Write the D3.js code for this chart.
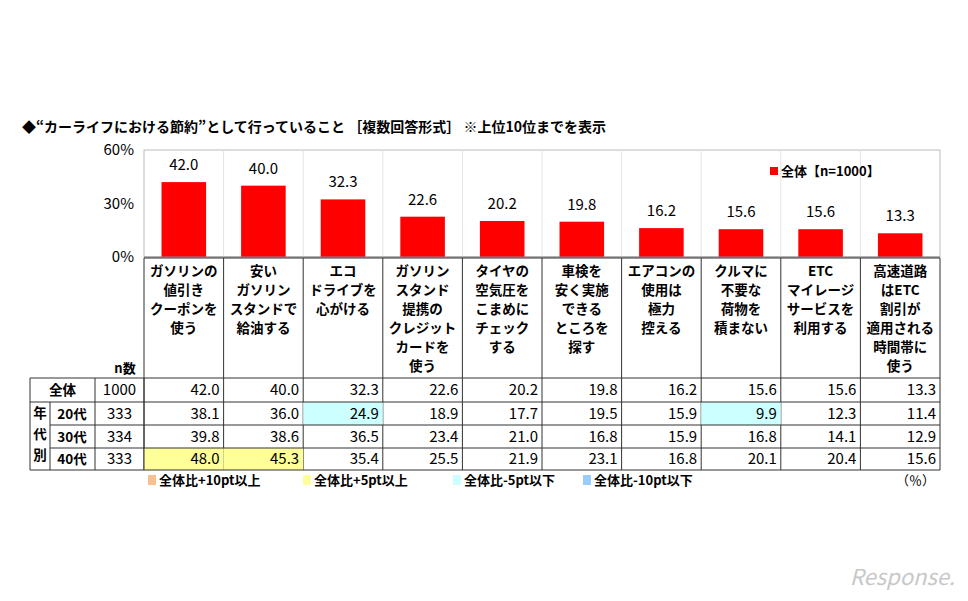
<!DOCTYPE html>
<html lang="ja">
<head>
<meta charset="UTF-8">
<script src="https://d3js.org/d3.v7.min.js"></script>
<style>
  body { margin: 0; background: #fff; }
  svg text { font-family: "Noto Sans CJK JP", "Liberation Sans", sans-serif; }
</style>
</head>
<body>
<svg id="chart" width="968" height="601"></svg>
<script>
// data
const categories = [
  ["ガソリンの", "値引き", "クーポンを", "使う"],
  ["安い", "ガソリン", "スタンドで", "給油する"],
  ["エコ", "ドライブを", "心がける"],
  ["ガソリン", "スタンド", "提携の", "クレジット", "カードを", "使う"],
  ["タイヤの", "空気圧を", "こまめに", "チェック", "する"],
  ["車検を", "安く実施", "できる", "ところを", "探す"],
  ["エアコンの", "使用は", "極力", "控える"],
  ["クルマに", "不要な", "荷物を", "積まない"],
  ["ETC", "マイレージ", "サービスを", "利用する"],
  ["高速道路", "はETC", "割引が", "適用される", "時間帯に", "使う"]
];
const totalValues = [42.0, 40.0, 32.3, 22.6, 20.2, 19.8, 16.2, 15.6, 15.6, 13.3];
const rowLabels = ["全体", "20代", "30代", "40代"];
const rowN = [1000, 333, 334, 333];
const age20 = [38.1, 36.0, 24.9, 18.9, 17.7, 19.5, 15.9, 9.9, 12.3, 11.4];
const age30 = [39.8, 38.6, 36.5, 23.4, 21.0, 16.8, 15.9, 16.8, 14.1, 12.9];
const age40 = [48.0, 45.3, 35.4, 25.5, 21.9, 23.1, 16.8, 20.1, 20.4, 15.6];
const yTicks = [0, 30, 60];
const legendItems = [
  { label: "全体比+10pt以上", color: "#f9c08f" },
  { label: "全体比+5pt以上", color: "#ffff99" },
  { label: "全体比-5pt以下", color: "#ccffff" },
  { label: "全体比-10pt以下", color: "#99ccff" }
];

const svg = d3.select("#chart");
const pL = 144, pR = 940, pT = 150, base = 257;
const x = d3.scaleBand().domain(d3.range(10)).range([pL, pR]);
const y = d3.scaleLinear().domain([0, 60]).range([base, pT]);

// title
svg.append("text").attr("x", 22).attr("y", 132)
  .attr("font-size", 14).attr("font-weight", "bold")
  .text("◆“カーライフにおける節約”として行っていること ［複数回答形式］ ※上位10位までを表示");

// plot frame + grid
svg.append("rect").attr("x", pL).attr("y", pT).attr("width", pR - pL).attr("height", base - pT)
  .attr("fill", "none").attr("stroke", "#bbb");
svg.selectAll(".vgrid").data(d3.range(1, 10)).join("line")
  .attr("x1", i => x(i)).attr("x2", i => x(i)).attr("y1", pT).attr("y2", base)
  .attr("stroke", "#e4e4e4");
svg.selectAll(".ytick").data(yTicks).join("text")
  .attr("x", pL - 10).attr("y", d => y(d) + 5).attr("text-anchor", "end")
  .attr("font-size", 15).attr("font-family", "Liberation Sans, sans-serif").text(d => d + "%");

// bars
const bw = x.bandwidth() * 0.56;
svg.selectAll(".bar").data(totalValues).join("rect")
  .attr("x", (d, i) => x(i) + (x.bandwidth() - bw) / 2).attr("width", bw)
  .attr("y", d => y(d)).attr("height", d => base - y(d)).attr("fill", "#ff0000");
svg.selectAll(".barlabel").data(totalValues).join("text")
  .attr("x", (d, i) => x(i) + x.bandwidth() / 2).attr("y", d => y(d) - 12)
  .attr("text-anchor", "middle").attr("font-size", 15)
  .attr("font-family", "Liberation Sans, sans-serif").text(d => d.toFixed(1));
svg.append("line").attr("x1", pL).attr("x2", pR).attr("y1", base).attr("y2", base).attr("stroke", "#888");

// legend top
svg.append("rect").attr("x", 770).attr("y", 167).attr("width", 8).attr("height", 8).attr("fill", "#ff0000");
svg.append("text").attr("x", 781).attr("y", 176).attr("font-size", 13).attr("font-weight", "bold").text("全体【n=1000】");

// category labels box
const catTop = 258, catBot = 378;
const rowH = [24, 23, 23, 22];
const rowY = [catBot];
rowH.forEach((h, i) => rowY.push(rowY[i] + h));
const tableBot = rowY[4];
const g = svg.append("g").attr("stroke", "#333").attr("fill", "none");
g.append("line").attr("x1", pL).attr("x2", pR).attr("y1", catTop).attr("y2", catTop);
d3.range(11).forEach(i => {
  const xx = i < 10 ? x(i) : pR;
  g.append("line").attr("x1", xx).attr("x2", xx).attr("y1", catTop).attr("y2", tableBot);
});
categories.forEach((lines, i) => {
  lines.forEach((t, j) => {
    svg.append("text").attr("x", x(i) + x.bandwidth() / 2).attr("y", catTop + 18 + j * 19)
      .attr("text-anchor", "middle").attr("font-size", 13.5).attr("font-weight", "bold").text(t);
  });
});
svg.append("text").attr("x", 125).attr("y", 373).attr("text-anchor", "middle")
  .attr("font-size", 13).attr("font-weight", "bold").text("n数");

// table
const tLeft = 30, nLeft = 95;
const rows = [totalValues, age20, age30, age40];
function cellColor(v, j, r) {
  if (r === 0) return "none";
  const d = v - totalValues[j];
  if (d >= 10) return legendItems[0].color;
  if (d >= 5) return legendItems[1].color;
  if (d <= -10) return legendItems[3].color;
  if (d <= -5) return legendItems[2].color;
  return "none";
}
const numFont = "Liberation Sans Narrow, Liberation Sans, sans-serif";
rows.forEach((vals, r) => {
  vals.forEach((v, j) => {
    svg.append("rect").attr("x", x(j)).attr("y", rowY[r]).attr("width", x.bandwidth()).attr("height", rowH[r])
      .attr("fill", cellColor(v, j, r));
    svg.append("text").attr("x", x(j) + x.bandwidth() - 4).attr("y", rowY[r] + rowH[r] / 2 + 5)
      .attr("text-anchor", "end").attr("font-size", 15).attr("font-family", numFont)
      .text(v.toFixed(1));
  });
  svg.append("text").attr("x", (nLeft + pL) / 2).attr("y", rowY[r] + rowH[r] / 2 + 5)
    .attr("text-anchor", "middle").attr("font-size", 15).attr("font-family", numFont)
    .text(rowN[r]);
  svg.append("text").attr("x", r === 0 ? (tLeft + nLeft) / 2 : 72).attr("y", rowY[r] + rowH[r] / 2 + 5)
    .attr("text-anchor", "middle").attr("font-size", 13.5).attr("font-weight", "bold").text(rowLabels[r]);
});
const tg = svg.append("g").attr("stroke", "#333").attr("fill", "none");
rowY.forEach((yy, r) => {
  tg.append("line").attr("x1", r === 0 || r === 1 || r === 4 ? tLeft : 50).attr("x2", pR).attr("y1", yy).attr("y2", yy);
});
tg.append("line").attr("x1", tLeft).attr("x2", tLeft).attr("y1", catBot).attr("y2", tableBot);
tg.append("line").attr("x1", 50).attr("x2", 50).attr("y1", rowY[1]).attr("y2", tableBot);
tg.append("line").attr("x1", nLeft).attr("x2", nLeft).attr("y1", catBot).attr("y2", tableBot);
tg.append("line").attr("x1", pL).attr("x2", pL).attr("y1", catBot).attr("y2", tableBot);
["年", "代", "別"].forEach((c, i) => {
  svg.append("text").attr("x", 40).attr("y", rowY[1] + 16 + i * 21).attr("text-anchor", "middle")
    .attr("font-size", 13.5).attr("font-weight", "bold").text(c);
});

// bottom legend
const lx = [148, 303, 453, 583];
legendItems.forEach((d, i) => {
  svg.append("rect").attr("x", lx[i]).attr("y", 475).attr("width", 8).attr("height", 10).attr("fill", d.color);
  svg.append("text").attr("x", lx[i] + 11).attr("y", 485).attr("font-size", 13).attr("font-weight", "bold").text(d.label);
});
svg.append("text").attr("x", 935).attr("y", 485).attr("text-anchor", "end").attr("font-size", 13).text("（％）");

// watermark
svg.append("text").attr("x", 955).attr("y", 585).attr("text-anchor", "end")
  .attr("font-size", 22).attr("font-style", "italic").attr("fill", "#c8c8c8")
  .attr("font-family", "Liberation Sans, sans-serif").text("Response.");
</script>
</body>
</html>
